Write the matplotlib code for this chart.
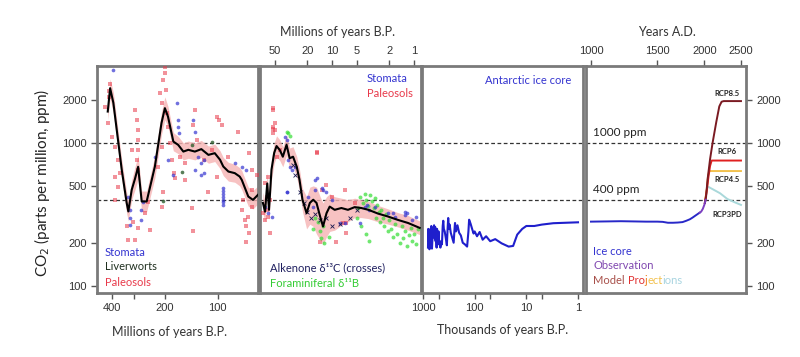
import matplotlib
matplotlib.use("Agg")
import matplotlib.pyplot as plt
from matplotlib.offsetbox import TextArea, HPacker, AnchoredOffsetbox

plt.rcParams['font.family'] = ['Lato', 'DejaVu Sans']

# ---- panel 1 : Phanerozoic (Myr B.P.) ----
line1_age = [423, 410, 393, 368, 352, 330, 323, 309, 296, 284, 271, 254, 228, 209, 200, 192, 179, 168, 157, 147, 135, 124, 113, 104, 97, 93, 87, 80, 75, 73, 67, 63, 59]
line1_ppm = [1656, 2413, 1905, 1000, 647, 380, 331, 469, 560, 680, 389, 389, 683, 1380, 1749, 1527, 1021, 968, 869, 894, 869, 904, 824, 847, 761, 683, 630, 614, 581, 551, 421, 399, 433]
band1_lo = [1450, 2050, 1600, 850, 550, 320, 285, 400, 470, 560, 330, 330, 570, 1150, 1450, 1300, 880, 840, 760, 780, 760, 790, 720, 740, 660, 590, 540, 530, 500, 470, 360, 345, 375]
band1_hi = [1900, 2800, 2250, 1180, 760, 450, 390, 550, 680, 820, 460, 460, 820, 1650, 2100, 1800, 1180, 1110, 1000, 1030, 1000, 1040, 950, 980, 880, 790, 730, 710, 670, 640, 490, 465, 500]

paleo1_age = [438, 421, 400, 385, 370, 360, 415, 412, 418, 296, 288, 284, 284, 284, 288, 284, 307, 213, 209, 205, 200, 200, 198, 195, 192, 187, 182, 178, 209, 218,
              135, 139, 131, 101, 98, 94, 108, 88, 77, 66, 64, 60, 164, 154, 119, 385, 370, 385, 330, 326, 296, 303, 284, 260, 243, 250, 209, 205, 176, 154,
              141, 139, 114, 101, 73, 70, 69, 67, 66, 69, 64, 72, 64]
paleo1_ppm = [1780, 1380, 1100, 940, 760, 620, 2300, 2600, 2100, 1700, 1450, 1230, 1050, 893, 760, 647, 893, 2250, 1900, 2750, 3400, 3100, 2350, 1620, 1290, 1000, 760, 620, 940, 680,
              1700, 1340, 1050, 1520, 1450, 1336, 893, 800, 1190, 850, 647, 597, 800, 720, 760, 580, 495, 400, 260, 210, 210, 280, 255, 325, 246, 385, 357, 450, 570, 551,
              350, 240, 450, 580, 340, 289, 260, 305, 235, 203, 357, 400, 469]
stom1_age = [393, 171, 168, 168, 166, 139, 135, 228, 192, 129, 124, 119, 135, 119, 80, 73, 69, 326, 316, 316, 316, 272, 272, 268, 180, 124, 93, 93, 93, 93, 93, 93, 93]
stom1_ppm = [3240, 1900, 1450, 1290, 1170, 1450, 1190, 800, 760, 800, 720, 760, 647, 620, 720, 680, 647, 420, 340, 300, 267, 340, 289, 385, 597, 597, 480, 460, 440, 420, 400, 385, 370]
liver1_age = [160, 108, 205, 140]
liver1_ppm = [630, 1010, 390, 960]

# ---- panel 2 : Cenozoic (Myr B.P.) ----
line2_age = [70, 66, 62, 59, 55, 51, 47.7, 43.5, 40, 36, 33, 30, 27, 25, 23, 20.5, 18.7, 17, 15.5, 14, 12.9, 11.7, 10.7, 9.3, 7.7, 6.4, 5.3, 4.4, 3.6, 2.75, 2.07, 1.57, 1.18, 0.85]
line2_ppm = [380, 330, 520, 340, 650, 850, 950, 890, 800, 970, 780, 800, 680, 550, 400, 322, 380, 400, 380, 305, 260, 322, 358, 340, 350, 340, 355, 350, 340, 320, 305, 289, 275, 254]
band2_lo = [320, 280, 440, 290, 550, 720, 800, 750, 680, 820, 660, 680, 570, 460, 330, 250, 270, 260, 230, 210, 195, 220, 240, 245, 265, 280, 300, 300, 295, 280, 270, 258, 245, 228]
band2_hi = [450, 390, 620, 400, 770, 1000, 1120, 1050, 940, 1140, 920, 940, 800, 650, 480, 420, 490, 500, 490, 420, 380, 420, 440, 420, 410, 400, 410, 400, 390, 365, 345, 325, 310, 284]

paleo2_age = [53, 50, 50, 53, 61, 66, 63, 57, 63, 61, 47, 43.5, 15.5, 12, 13.4, 7, 10.1, 5.3, 7.4, 53, 53, 53, 15.5, 57, 66, 69, 14.1, 9, 6.8, 6.8]
paleo2_ppm = [1700, 1380, 1230, 1170, 580, 525, 420, 400, 340, 305, 800, 893, 865, 508, 469, 469, 420, 380, 275, 1760, 1300, 1250, 850, 235, 289, 325, 203, 203, 235, 275]
stom2_age = [61, 66, 54, 37.8, 36, 34.7, 32.8, 31, 28.5, 36, 16.3, 15.5, 16.3, 12.9, 12, 10.1, 17, 19.6, 4.0, 3.5, 3.0, 1.7, 1.3, 1.2, 1.07, 2.1, 7, 36, 13.4, 1.8, 1.3, 0.95, 3.7, 4.6, 8.1]
stom2_ppm = [325, 357, 305, 1100, 1050, 760, 680, 647, 680, 455, 551, 570, 469, 469, 450, 399, 357, 420, 357, 340, 357, 305, 314, 325, 289, 325, 275, 450, 485, 325, 330, 305, 368, 275, 275]
foram2_age = [34.7, 33, 36, 4.5, 4.2, 4.0, 3.8, 3.6, 3.4, 3.3, 3.1, 3.0, 2.9, 2.8, 2.7, 2.6, 2.5, 2.4, 2.3, 2.2, 2.1, 2.0, 1.9, 1.8, 1.7, 1.6, 1.5, 1.4, 1.35,
              1.3, 1.2, 1.15, 1.1, 1.05, 1.0, 0.95, 0.9, 4.8, 5.0, 4.4, 3.9, 3.5, 15, 14, 13.5, 13, 12.5, 16, 17, 11]
foram2_ppm = [1170, 1120, 1200, 420, 380, 440, 400, 360, 430, 390, 350, 410, 300, 370, 330, 280, 340, 300, 260, 320, 240, 290, 250, 220, 270, 230, 200, 260, 215,
              240, 190, 225, 255, 205, 230, 195, 250, 350, 300, 260, 230, 205, 280, 240, 215, 260, 200, 300, 250, 220]
alk2_age = [30, 28, 25, 22, 20, 18, 16, 14, 12, 10, 8, 6, 5]
alk2_ppm = [700, 600, 450, 380, 330, 300, 320, 290, 300, 260, 270, 300, 340]

# ---- panel 3 : Antarctic ice core (kyr B.P.) ----
ice_kyr = [800, 790, 780, 770, 750, 740, 730, 715, 700, 690, 680, 670, 660, 640, 625, 610, 595, 580, 570, 560, 545, 535, 525, 510, 500, 490, 475, 460,
           445, 430, 415, 405, 395, 380, 365, 345, 335, 325, 315, 305, 290, 275, 255, 245, 240, 230, 215, 200, 185, 170, 155, 140, 132, 128, 120,
           112, 105, 100, 90, 80, 70, 60, 50, 40, 30, 22, 18, 15, 12, 10, 7, 5, 3, 1]
ice_ppm = [185, 250, 205, 240, 180, 200, 235, 250, 200, 262, 210, 182, 205, 240, 250, 265, 215, 258, 205, 235, 185, 250, 235, 195, 240, 210, 200, 185,
           205, 195, 262, 285, 250, 240, 220, 192, 245, 298, 250, 268, 235, 220, 200, 250, 275, 240, 265, 235, 225, 200, 195, 188, 240, 290, 272,
           250, 232, 240, 222, 238, 210, 222, 205, 212, 198, 188, 190, 228, 250, 262, 262, 268, 274, 278]

# ---- panel 4 : Years A.D. ----
core_yr = [1000, 1100, 1200, 1300, 1400, 1500, 1550, 1600, 1650, 1700, 1750, 1790, 1830, 1860, 1900, 1940]
core_ppm = [281, 282, 283, 282, 281, 281, 280, 276, 276, 277, 279, 285, 292, 300, 312, 324]
obs_yr = [1940, 1960, 1980, 2000, 2015]
obs_ppm = [324, 330, 345, 370, 400]
rcp85_yr = [2005, 2020, 2038, 2070, 2102, 2150, 2190, 2221, 2250, 2500]
rcp85_ppm = [380, 420, 551, 770, 1000, 1400, 1800, 1940, 1960, 1960]
rcp6_yr = [2005, 2030, 2050, 2070, 2090, 2500]
rcp6_ppm = [380, 470, 580, 690, 752, 752]
rcp45_yr = [2005, 2030, 2045, 2060, 2500]
rcp45_ppm = [380, 480, 590, 635, 635]
rcp3_yr = [2005, 2025, 2040, 2100, 2200, 2300, 2400, 2500]
rcp3_ppm = [380, 450, 495, 475, 444, 405, 385, 368]

yticks = [100, 200, 500, 1000, 2000]

RED = '#e8394a'
BLUE = '#3434d0'
FRAME = '#7a7a7a'
TICKFONT = 'Liberation Sans'

fig = plt.figure(figsize=(8, 3.57), dpi=100)
W, H = 800.0, 357.0
lefts = [97, 260, 422, 586]
widths = [161, 161, 161, 160]
top_px, bot_px = 66, 293
axes = []
for l, w in zip(lefts, widths):
    ax = fig.add_axes([l / W, 1 - bot_px / H, w / W, (bot_px - top_px) / H])
    ax.set_yscale('log')
    ax.set_xscale('log')
    ax.set_ylim(89, 3450)
    ax.minorticks_off()
    for s in ax.spines.values():
        s.set_color(FRAME)
        s.set_linewidth(2)
    ax.tick_params(which='both', direction='out', length=4, width=1, color='#555555',
                   labelsize=8, labelcolor='#333333', left=False, labelleft=False,
                   bottom=False, labelbottom=False)
    for lvl in [1000, 400]:
        ax.axhline(lvl, color='#333333', lw=0.9, ls=(0, (3, 2)), zorder=1)
    axes.append(ax)
ax1, ax2, ax3, ax4 = axes

# panel 1
ax1.fill_between(line1_age, band1_lo, band1_hi, color='#f6b3b3', alpha=0.8, lw=0, zorder=2)
ax1.scatter(paleo1_age, paleo1_ppm, s=6, marker='s', color=RED, alpha=0.55, lw=0, zorder=3)
ax1.scatter(stom1_age, stom1_ppm, s=7, color=BLUE, alpha=0.7, lw=0, zorder=3)
ax1.scatter(liver1_age, liver1_ppm, s=7, color='#2e5e2e', alpha=0.8, lw=0, zorder=3)
ax1.plot(line1_age, line1_ppm, color='black', lw=1.5, zorder=4)
ax1.set_xlim(487, 59)
ax1.set_xticks([400, 300, 200, 100])
ax1.set_xticklabels(['400', '', '200', '100'])
ax1.set_yticks(yticks)
ax1.set_yticklabels([str(v) for v in yticks])
ax1.tick_params(left=True, labelleft=True, bottom=True, labelbottom=True)
ax1.text(0.05, 0.18, 'Stomata', color=BLUE, fontsize=8, transform=ax1.transAxes, va='center')
ax1.text(0.05, 0.115, 'Liverworts', color='#203020', fontsize=8, transform=ax1.transAxes, va='center')
ax1.text(0.05, 0.048, 'Paleosols', color=RED, fontsize=8, transform=ax1.transAxes, va='center')

# panel 2
ax2.fill_between(line2_age, band2_lo, band2_hi, color='#f6b3b3', alpha=0.8, lw=0, zorder=2)
ax2.scatter(paleo2_age, paleo2_ppm, s=6, marker='s', color=RED, alpha=0.55, lw=0, zorder=3)
ax2.scatter(foram2_age, foram2_ppm, s=8, color='#33dd33', alpha=0.7, lw=0, zorder=3)
ax2.scatter(stom2_age, stom2_ppm, s=7, color=BLUE, alpha=0.7, lw=0, zorder=3)
ax2.scatter(alk2_age, alk2_ppm, s=8, marker='x', color='#1a1a50', lw=0.6, zorder=3)
ax2.plot(line2_age, line2_ppm, color='black', lw=1.5, zorder=4)
ax2.set_xlim(76, 0.82)
ax2.xaxis.tick_top()
ax2.set_xticks([50, 20, 10, 5, 2, 1])
ax2.set_xticklabels(['50', '20', '10', '5', '2', '1'])
ax2.tick_params(top=True, labeltop=True)
ax2.text(0.665, 0.943, 'Stomata', color=BLUE, fontsize=8, transform=ax2.transAxes, va='center')
ax2.text(0.665, 0.877, 'Paleosols', color=RED, fontsize=8, transform=ax2.transAxes, va='center')
ax2.text(0.062, 0.112, 'Alkenone δ¹³C (crosses)', color='#202060', fontsize=8, transform=ax2.transAxes, va='center')
ax2.text(0.062, 0.044, 'Foraminiferal δ¹¹B', color='#33cc33', fontsize=8, transform=ax2.transAxes, va='center')

# panel 3
ax3.plot(ice_kyr, ice_ppm, color='#1f1fcc', lw=1.5, zorder=3)
ax3.set_xlim(1045, 0.8)
ax3.set_xticks([1000, 500, 100, 50, 10, 5, 1])
ax3.set_xticklabels(['1000', '', '100', '', '10', '', '1'])
ax3.tick_params(bottom=True, labelbottom=True)
ax3.text(0.39, 0.938, 'Antarctic ice core', color=BLUE, fontsize=8, transform=ax3.transAxes, va='center')

# panel 4
ax4.plot(core_yr, core_ppm, color='#2828c8', lw=1.4, zorder=3)
ax4.plot(obs_yr, obs_ppm, color='#7b3fc0', lw=1.4, zorder=4)
ax4.plot(rcp3_yr, rcp3_ppm, color='#a9d8da', lw=1.4, zorder=3)
ax4.plot(rcp45_yr, rcp45_ppm, color='#f2c14e', lw=1.4, zorder=3)
ax4.plot(rcp6_yr, rcp6_ppm, color='#e02020', lw=1.4, zorder=3)
ax4.plot(rcp85_yr, rcp85_ppm, color='#7a1a22', lw=1.4, zorder=3)
ax4.set_xlim(970, 2578)
ax4.xaxis.tick_top()
ax4.set_xticks([1000, 1500, 2000, 2500])
ax4.set_xticklabels(['1000', '1500', '2000', '2500'])
ax4.yaxis.tick_right()
ax4.set_yticks(yticks)
ax4.set_yticklabels([str(v) for v in yticks])
ax4.tick_params(top=True, labeltop=True, right=True, labelright=True)
ax4.text(0.044, 0.705, '1000 ppm', color='#222222', fontsize=8.5, transform=ax4.transAxes, va='center')
ax4.text(0.044, 0.454, '400 ppm', color='#222222', fontsize=8.5, transform=ax4.transAxes, va='center')
for lab, yy in [('RCP8.5', 0.88), ('RCP6', 0.625), ('RCP4.5', 0.498), ('RCP3PD', 0.344)]:
    ax4.text(0.88, yy, lab, color='#222222', fontsize=5.5, fontweight='bold',
             transform=ax4.transAxes, ha='center', va='center')
ax4.text(0.044, 0.185, 'Ice core', color=BLUE, fontsize=8, transform=ax4.transAxes, va='center')
ax4.text(0.044, 0.119, 'Observation', color='#8048b0', fontsize=8, transform=ax4.transAxes, va='center')
pieces = [('Model ', '#a8504a'), ('Pro', '#e03030'), ('j', '#f08020'), ('ect', '#f2c14e'), ('ions', '#a8d4e0')]
box = HPacker(children=[TextArea(t, textprops=dict(color=c, fontsize=8)) for t, c in pieces],
              sep=0, pad=0, align='baseline')
ax4.add_artist(AnchoredOffsetbox(loc='center left', child=box, bbox_to_anchor=(0.044, 0.053),
                                 bbox_transform=ax4.transAxes, frameon=False, pad=0, borderpad=0))

for ax in axes:
    for lab in ax.get_xticklabels() + ax.get_yticklabels():
        lab.set_fontfamily(TICKFONT)

# axis titles
fig.text(42 / W, 1 - 183 / H, 'CO$_2$ (parts per million, ppm)', rotation=90, fontsize=11,
         color='#222222', ha='center', va='center')
fig.text(338 / W, 1 - 32 / H, 'Millions of years B.P.', fontsize=9, color='#333333', ha='center', va='center')
fig.text(667 / W, 1 - 32 / H, 'Years A.D.', fontsize=9, color='#333333', ha='center', va='center')
fig.text(170 / W, 1 - 332 / H, 'Millions of years B.P.', fontsize=9, color='#333333', ha='center', va='center')
fig.text(503 / W, 1 - 330 / H, 'Thousands of years B.P.', fontsize=9, color='#333333', ha='center', va='center')

fig.savefig('out.png', dpi=100)
